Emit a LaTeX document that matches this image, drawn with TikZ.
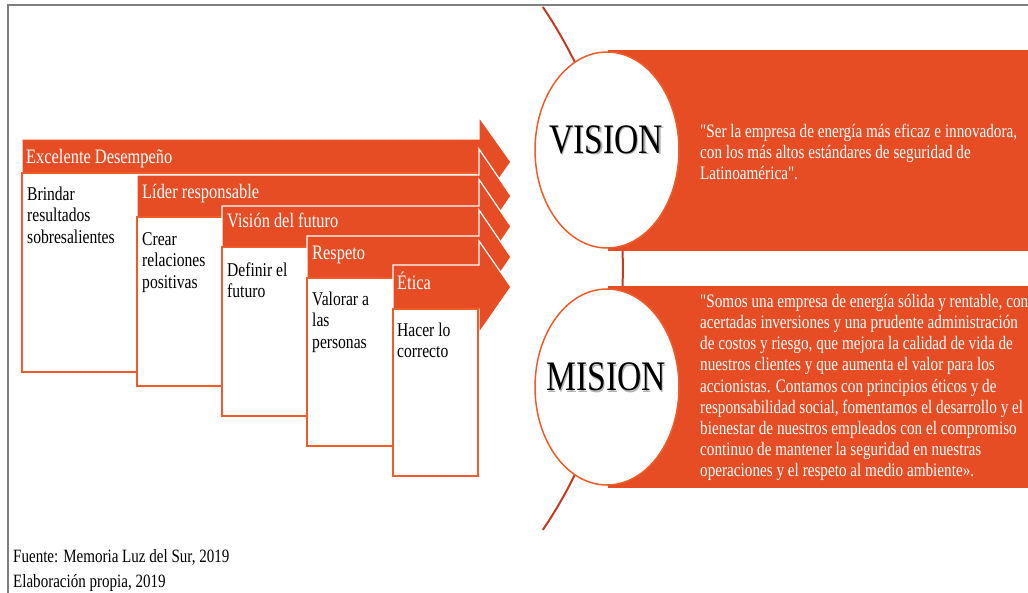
\documentclass[tikz,border=0pt]{standalone}
\usepackage{fontspec}
\usetikzlibrary{shapes.geometric}
\setmainfont[FakeStretch=0.8,Ligatures=TeXOff]{Liberation Serif}
\definecolor{brand}{HTML}{E64D24}
\definecolor{cardline}{HTML}{F15A29}
\definecolor{arcred}{HTML}{C23B22}
\definecolor{framegray}{HTML}{7F7F7F}
\begin{document}
\begin{tikzpicture}[x=1pt,y=-1pt,
  band/.style={fill=brand,draw=white,line width=1.2pt,line join=miter},
  card/.style={fill=white,draw=cardline,line width=1.6pt},
  bandlabel/.style={anchor=base west,inner sep=0pt,text=white,font=\fontsize{20.5}{24}\selectfont},
  cardtext/.style={anchor=north west,inner sep=0pt,align=left,font=\fontsize{19.5}{21.7}\selectfont},
  panel/.style={fill=brand},
  oval/.style={draw=cardline,fill=white,line width=1.5pt,ellipse,minimum width=144pt,minimum height=196pt,inner sep=0pt},
  bigword/.style={inner sep=0pt,font=\fontsize{42}{42}\selectfont},
  bigshade/.style={bigword,text=black,opacity=0.3},
  paneltext/.style={anchor=north west,inner sep=0pt,align=left,text=white},
  note/.style={anchor=base west,inner sep=0pt,font=\fontsize{18.8}{22}\selectfont}
]
\useasboundingbox (0,0) rectangle (1028,593);

% frame
\draw[framegray,line width=1.5pt] (8,593) -- (8,5) -- (1028,5);

% step 1
\draw[band] (22,139) -- (479,139) -- (479,117) -- (511,162) -- (479,207) -- (479,185) -- (22,185) -- cycle;
\node[bandlabel] (l1) at (26,164) {Excelente Desempeño};
\draw[card] (22,173) rectangle (478,372);
\node[cardtext] (t1) at (27,184.8) {\strut Brindar\\resultados\\sobresalientes};

% step 2
\draw[band] (137,175) -- (479,175) -- (479,149) -- (511,196) -- (479,243) -- (479,217) -- (137,217) -- cycle;
\node[bandlabel] (l2) at (142,199) {Líder responsable};
\draw[card] (137,217) rectangle (478,386);
\node[cardtext] (t2) at (142,229.8) {\strut Crear\\relaciones\\positivas};

% step 3
\draw[band] (222,206) -- (479,206) -- (479,179.5) -- (511,226.5) -- (479,273.5) -- (479,247) -- (222,247) -- cycle;
\node[bandlabel] (l3) at (227,228) {Visión del futuro};
\draw[card] (222,247) rectangle (478,416);
\node[cardtext] (t3) at (227,260.8) {\strut Definir el\\futuro};

% step 4
\draw[band] (307,236) -- (479,236) -- (479,210) -- (511,257) -- (479,304) -- (479,278) -- (307,278) -- cycle;
\node[bandlabel] (l4) at (312,260) {Respeto};
\draw[card] (307,278) rectangle (478,446);
\node[cardtext] (t4) at (312,289.8) {\strut Valorar a\\las\\personas};

% step 5
\draw[band] (393,265) -- (479,265) -- (479,241) -- (511,287) -- (479,333) -- (479,309) -- (393,309) -- cycle;
\node[bandlabel] (l5) at (397,290) {Ética};
\draw[card] (393,309) rectangle (478,476);
\node[cardtext] (t5) at (397,320.8) {\strut Hacer lo\\correcto};

% guiding arc behind the two ovals
\draw[arcred,line width=2pt] (542.8,7) arc[start angle=-34.05,end angle=34.05,radius=467];

% vision panel
\fill[panel] (608,50) rectangle (1028,251);
\node[oval] (vis) at (607,150) {};
\node[bigshade] (visshade) at (607.5,141) {VISION};
\node[bigword] (vislabel) at (606,139.5) {VISION};
\node[paneltext,font=\fontsize{19}{21}\selectfont] (vistext) at (700,122.3)
  {\strut"Ser la empresa de energía más eficaz e innovadora,\\con los más altos estándares de seguridad de\\Latinoamérica".};

% mission panel
\fill[panel] (608,286) rectangle (1028,488);
\node[oval] (mis) at (607,387) {};
\node[bigshade] (misshade) at (607.5,378.5) {MISION};
\node[bigword] (mislabel) at (606,377) {MISION};
\node[paneltext,font=\fontsize{19}{21.2}\selectfont] (mistext) at (700,292.2)
  {\strut"Somos una empresa de energía sólida y rentable, con\\acertadas inversiones y una prudente administración\\de costos y riesgo, que mejora la calidad de vida de\\nuestros clientes y que aumenta el valor para los\\accionistas. Contamos con principios éticos y de\\responsabilidad social, fomentamos el desarrollo y el\\bienestar de nuestros empleados con el compromiso\\continuo de mantener la seguridad en nuestras\\operaciones y el respeto al medio ambiente».};

% source notes
\node[note] (src) at (13,562) {Fuente: Memoria Luz del Sur, 2019};
\node[note] (own) at (13,587) {Elaboración propia, 2019};
\end{tikzpicture}
\end{document}
